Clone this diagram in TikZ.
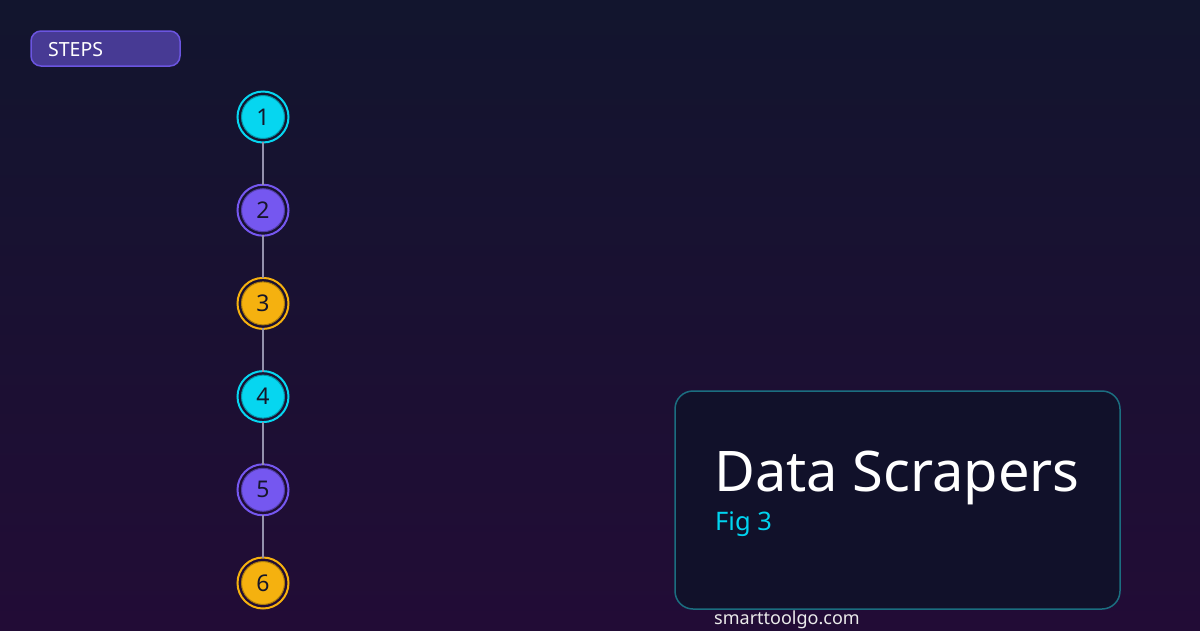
\documentclass[tikz,border=0pt]{standalone}
\usepackage{fontspec}
\setmainfont{Noto Sans}
\usetikzlibrary{positioning}

\definecolor{bgtop}{HTML}{12152E}
\definecolor{bgbot}{HTML}{220C36}
\definecolor{pillfill}{HTML}{473A94}
\definecolor{pillline}{HTML}{6B55E0}
\definecolor{stepcyan}{HTML}{06D6F0}
\definecolor{stepviolet}{HTML}{7557F0}
\definecolor{stepamber}{HTML}{F5B10F}
\definecolor{numink}{HTML}{16162A}
\definecolor{linkgray}{HTML}{9391AC}
\definecolor{cardfill}{HTML}{11112A}
\definecolor{cardline}{HTML}{1B6E80}
\definecolor{figcyan}{HTML}{00D4F0}

\tikzset{
  stepdot/.style={circle,minimum size=43pt,inner sep=0pt,outer sep=3.5pt,
    fill=#1,draw=#1!70!black,line width=1pt,text=numink,
    font=\fontsize{23}{26}\selectfont},
  stepring/.style={draw=#1,line width=2pt},
  link/.style={draw=linkgray,line width=2.2pt},
}

\begin{document}
\begin{tikzpicture}[x=1pt,y=-1pt]
  \useasboundingbox (0,0) rectangle (1200,630);
  \shade[top color=bgtop,bottom color=bgbot] (0,0) rectangle (1200,630);

  % label pill
  \draw[fill=pillfill,draw=pillline,line width=1.5pt,rounded corners=10pt] (31,31) rectangle (180,66);
  \node[anchor=base west,inner sep=0pt,text=white,font=\fontsize{19.5}{22}\selectfont] (steps) at (48,56) {STEPS};

  % step markers
  \foreach \n/\c in {1/stepcyan,2/stepviolet,3/stepamber,4/stepcyan,5/stepviolet,6/stepamber} {
    \node[stepdot=\c] (s\n) at (263,{117+(\n-1)*93.2}) {\n};
    \draw[stepring=\c] (s\n.center) circle (25.5);
  }
  \foreach \n [evaluate=\n as \m using int(\n+1)] in {1,...,5}
    \draw[link] (s\n) -- (s\m);

  % title card
  \draw[fill=cardfill,draw=cardline,line width=1.5pt,rounded corners=18pt] (675,391) rectangle (1120,609);
  \node[anchor=base west,inner sep=0pt,text=white,font=\fontsize{56}{60}\selectfont] (title) at (714,491) {Data Scrapers};
  \node[anchor=base west,inner sep=0pt,text=figcyan,font=\fontsize{25.5}{28}\selectfont] (fig) at (715,530) {Fig 3};
  \node[anchor=base west,inner sep=0pt,text=white!92!black,font=\fontsize{18}{20}\selectfont] (site) at (714,624) {smarttoolgo.com};
\end{tikzpicture}
\end{document}
